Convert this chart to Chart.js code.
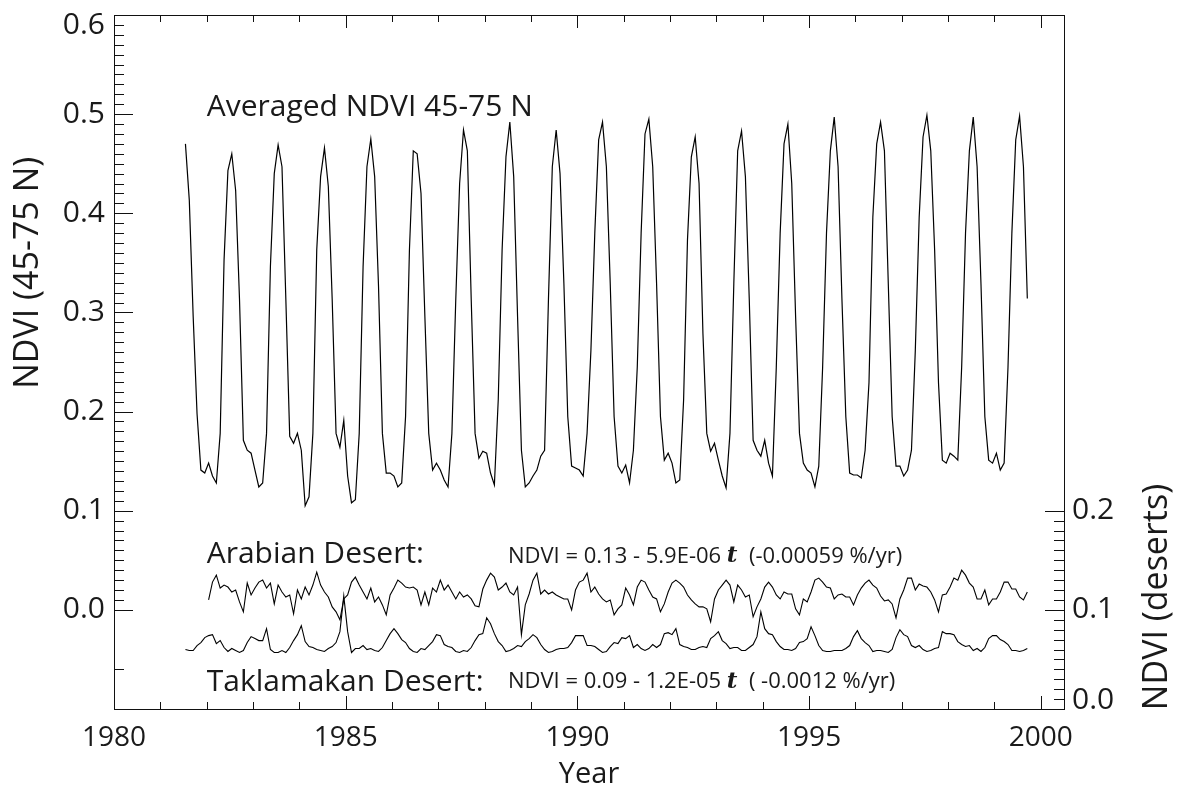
<!DOCTYPE html>
<html>
<head>
<meta charset="utf-8">
<title>Averaged NDVI 45-75 N and desert NDVI</title>
<script src="https://cdn.jsdelivr.net/npm/chart.js@4/dist/chart.umd.min.js"></script>
<style>
  html, body { margin: 0; padding: 0; background: #fff; }
  #wrap { width: 1186px; height: 790px; }
</style>
</head>
<body>
<div id="wrap"><canvas id="ndviChart" width="1186" height="790"></canvas></div>
<script>
// Monthly values
// NDVI averaged over 45-75 N, July 1981 .. September 1999
const northStart = 1981.5;
const ndviNorth = [
  0.470, 0.413, 0.296, 0.198, 0.141, 0.138,
  0.148, 0.135, 0.128, 0.178, 0.353, 0.443, 0.460, 0.423, 0.313, 0.171, 0.161, 0.158,
  0.141, 0.124, 0.128, 0.178, 0.346, 0.440, 0.469, 0.447, 0.313, 0.175, 0.168, 0.178,
  0.161, 0.105, 0.114, 0.178, 0.363, 0.437, 0.466, 0.427, 0.313, 0.178, 0.164, 0.191,
  0.135, 0.108, 0.111, 0.178, 0.346, 0.447, 0.475, 0.437, 0.326, 0.178, 0.138, 0.138,
  0.135, 0.124, 0.128, 0.195, 0.363, 0.463, 0.460, 0.420, 0.296, 0.178, 0.141, 0.148,
  0.141, 0.131, 0.124, 0.178, 0.313, 0.430, 0.484, 0.463, 0.313, 0.178, 0.153, 0.160,
  0.158, 0.138, 0.126, 0.212, 0.363, 0.457, 0.492, 0.437, 0.296, 0.161, 0.124, 0.128,
  0.135, 0.141, 0.155, 0.161, 0.313, 0.447, 0.484, 0.440, 0.329, 0.195, 0.145, 0.143,
  0.141, 0.135, 0.178, 0.262, 0.380, 0.474, 0.492, 0.447, 0.329, 0.195, 0.145, 0.138,
  0.146, 0.128, 0.161, 0.245, 0.380, 0.480, 0.495, 0.447, 0.329, 0.195, 0.151, 0.158,
  0.148, 0.128, 0.131, 0.212, 0.373, 0.457, 0.477, 0.430, 0.279, 0.178, 0.160, 0.168,
  0.151, 0.135, 0.123, 0.178, 0.329, 0.463, 0.483, 0.437, 0.313, 0.171, 0.161, 0.155,
  0.171, 0.148, 0.135, 0.245, 0.380, 0.470, 0.490, 0.430, 0.296, 0.178, 0.148, 0.141,
  0.138, 0.124, 0.145, 0.245, 0.380, 0.463, 0.497, 0.447, 0.313, 0.195, 0.138, 0.136,
  0.136, 0.133, 0.161, 0.229, 0.396, 0.470, 0.492, 0.463, 0.329, 0.195, 0.145, 0.145,
  0.135, 0.141, 0.161, 0.262, 0.396, 0.477, 0.499, 0.463, 0.363, 0.229, 0.151, 0.148,
  0.158, 0.155, 0.151, 0.245, 0.380, 0.463, 0.497, 0.447, 0.329, 0.195, 0.151, 0.148,
  0.158, 0.141, 0.148, 0.245, 0.380, 0.474, 0.498, 0.447, 0.314
];

// Arabian Desert, January 1982 .. September 1999 (right axis)
const arabianStart = 1982.0;
const ndviArabian = [
  0.110, 0.128, 0.135, 0.122, 0.125, 0.123, 0.118, 0.120, 0.108, 0.098, 0.127, 0.115,
  0.122, 0.128, 0.130, 0.122, 0.127, 0.106, 0.125, 0.118, 0.113, 0.115, 0.096, 0.120,
  0.111, 0.123, 0.115, 0.125, 0.138, 0.125, 0.118, 0.113, 0.103, 0.098, 0.090, 0.111,
  0.115, 0.128, 0.133, 0.125, 0.118, 0.111, 0.122, 0.108, 0.113, 0.105, 0.095, 0.115,
  0.122, 0.130, 0.127, 0.123, 0.122, 0.123, 0.120, 0.105, 0.118, 0.105, 0.122, 0.118,
  0.130, 0.120, 0.125, 0.118, 0.111, 0.118, 0.113, 0.115, 0.111, 0.104, 0.103, 0.121,
  0.130, 0.137, 0.133, 0.120, 0.123, 0.127, 0.118, 0.115, 0.123, 0.075, 0.105, 0.116,
  0.130, 0.137, 0.116, 0.120, 0.116, 0.118, 0.115, 0.113, 0.111, 0.111, 0.100, 0.120,
  0.128, 0.130, 0.137, 0.118, 0.123, 0.116, 0.111, 0.108, 0.110, 0.095, 0.101, 0.105,
  0.122, 0.115, 0.105, 0.123, 0.130, 0.128, 0.120, 0.113, 0.111, 0.098, 0.106, 0.118,
  0.127, 0.130, 0.127, 0.123, 0.115, 0.110, 0.106, 0.103, 0.103, 0.101, 0.088, 0.111,
  0.120, 0.125, 0.130, 0.125, 0.108, 0.125, 0.120, 0.113, 0.115, 0.093, 0.103, 0.111,
  0.123, 0.128, 0.123, 0.115, 0.111, 0.118, 0.116, 0.116, 0.101, 0.095, 0.111, 0.108,
  0.118, 0.130, 0.132, 0.128, 0.123, 0.122, 0.111, 0.115, 0.116, 0.113, 0.113, 0.105,
  0.115, 0.122, 0.127, 0.130, 0.125, 0.122, 0.114, 0.109, 0.110, 0.106, 0.092, 0.111,
  0.120, 0.132, 0.132, 0.120, 0.126, 0.124, 0.123, 0.118, 0.110, 0.098, 0.115, 0.116,
  0.123, 0.132, 0.130, 0.140, 0.135, 0.127, 0.123, 0.111, 0.111, 0.120, 0.105, 0.111,
  0.111, 0.118, 0.128, 0.128, 0.121, 0.121, 0.113, 0.110, 0.118
];

// Taklamakan Desert, July 1981 .. September 1999 (right axis)
const taklamakanStart = 1981.5;
const ndviTaklamakan = [
  0.060, 0.059, 0.059, 0.064, 0.067, 0.072,
  0.074, 0.075, 0.066, 0.069, 0.062, 0.058, 0.061, 0.059, 0.057, 0.059, 0.067, 0.073,
  0.071, 0.069, 0.069, 0.081, 0.060, 0.057, 0.057, 0.059, 0.057, 0.062, 0.069, 0.075,
  0.084, 0.068, 0.063, 0.062, 0.060, 0.059, 0.058, 0.061, 0.063, 0.067, 0.078, 0.114,
  0.078, 0.057, 0.061, 0.061, 0.064, 0.060, 0.061, 0.059, 0.058, 0.062, 0.069, 0.076,
  0.081, 0.076, 0.070, 0.067, 0.061, 0.058, 0.057, 0.061, 0.060, 0.064, 0.068, 0.075,
  0.074, 0.065, 0.063, 0.062, 0.058, 0.057, 0.059, 0.058, 0.062, 0.069, 0.075, 0.076,
  0.092, 0.086, 0.076, 0.068, 0.064, 0.058, 0.059, 0.061, 0.064, 0.063, 0.068, 0.071,
  0.075, 0.072, 0.065, 0.060, 0.057, 0.058, 0.060, 0.061, 0.061, 0.062, 0.067, 0.074,
  0.074, 0.074, 0.064, 0.064, 0.063, 0.060, 0.057, 0.058, 0.063, 0.067, 0.066, 0.072,
  0.071, 0.074, 0.062, 0.065, 0.061, 0.059, 0.061, 0.065, 0.062, 0.065, 0.076, 0.077,
  0.075, 0.081, 0.065, 0.063, 0.062, 0.060, 0.060, 0.062, 0.063, 0.062, 0.071, 0.074,
  0.078, 0.069, 0.066, 0.061, 0.062, 0.062, 0.059, 0.059, 0.062, 0.065, 0.073, 0.098,
  0.081, 0.076, 0.075, 0.068, 0.063, 0.060, 0.060, 0.059, 0.061, 0.067, 0.068, 0.071,
  0.083, 0.074, 0.064, 0.059, 0.058, 0.058, 0.059, 0.059, 0.059, 0.061, 0.064, 0.073,
  0.079, 0.071, 0.067, 0.064, 0.058, 0.059, 0.059, 0.058, 0.057, 0.060, 0.072, 0.080,
  0.075, 0.073, 0.064, 0.062, 0.064, 0.060, 0.058, 0.059, 0.061, 0.062, 0.078, 0.076,
  0.076, 0.075, 0.068, 0.065, 0.063, 0.064, 0.059, 0.061, 0.058, 0.062, 0.071, 0.074,
  0.074, 0.070, 0.068, 0.065, 0.059, 0.059, 0.058, 0.059, 0.061
];

// Tick labels
const yearLabels = [1980, 1985, 1990, 1995, 2000];
const leftLabels = [0.0, 0.1, 0.2, 0.3, 0.4, 0.5, 0.6];
const rightLabels = [0.0, 0.1, 0.2];

const FONT = '"Open Sans", "DejaVu Sans", sans-serif';
const INK = '#1a1a1a';

// month i is drawn at the middle of that month
function toPoints(start, values) {
  return values.map((v, i) => ({ x: start + (i + 0.5) / 12, y: v }));
}

// Frame, inward ticks (major + minor) and all texts, placed with the chart scales
const axesFrame = {
  id: 'axesFrame',
  afterDraw(chart) {
    const { ctx, chartArea: a } = chart;
    const { x, y, y2 } = chart.scales;
    const crisp = v => Math.round(v) + 0.5;

    ctx.save();
    ctx.strokeStyle = '#111';
    ctx.lineWidth = 1;
    ctx.strokeRect(crisp(a.left), crisp(a.top), Math.round(a.right - a.left), Math.round(a.bottom - a.top));

    ctx.beginPath();
    // years on bottom and top
    for (let yr = 1980; yr <= 2000; yr++) {
      const px = crisp(x.getPixelForValue(yr));
      const len = yr % 5 === 0 ? 13 : 7;
      ctx.moveTo(px, a.bottom); ctx.lineTo(px, a.bottom - len);
      ctx.moveTo(px, a.top); ctx.lineTo(px, a.top + len);
    }
    // left axis, every 0.01 above zero, one stray minor tick below
    for (let i = -10; i <= 60; i++) {
      if (i < 0 && i !== -6) continue;
      const py = crisp(y.getPixelForValue(i / 100));
      const len = i % 10 === 0 ? 19 : 10;
      ctx.moveTo(a.left, py); ctx.lineTo(a.left + len, py);
    }
    // right axis, 0.0 .. 0.2 only
    for (let i = 0; i <= 20; i++) {
      const py = crisp(y2.getPixelForValue(i / 100));
      const len = i % 10 === 0 ? 19 : 10;
      ctx.moveTo(a.right, py); ctx.lineTo(a.right - len, py);
    }
    ctx.stroke();

    ctx.fillStyle = INK;
    ctx.textBaseline = 'middle';

    ctx.font = '30px ' + FONT;
    ctx.textAlign = 'right';
    leftLabels.forEach(v => {
      const py = Math.min(Math.max(y.getPixelForValue(v), a.top + 10), a.bottom - 9);
      ctx.fillText(v.toFixed(1), a.left - 9, py);
    });

    ctx.textAlign = 'left';
    rightLabels.forEach(v => {
      const py = Math.min(Math.max(y2.getPixelForValue(v), a.top + 10), a.bottom - 9);
      ctx.fillText(v.toFixed(1), a.right + 8, py);
    });

    ctx.font = '28px ' + FONT;
    ctx.textAlign = 'center';
    yearLabels.forEach(yr => {
      ctx.fillText(String(yr), x.getPixelForValue(yr), a.bottom + 29);
    });
    ctx.font = '29px ' + FONT;
    ctx.fillText('Year', (a.left + a.right) / 2, a.bottom + 66);

    // axis titles
    ctx.font = '34px ' + FONT;
    ctx.save();
    ctx.translate(28, y.getPixelForValue(0.34));
    ctx.rotate(-Math.PI / 2);
    ctx.fillText('NDVI (45-75 N)', 0, 0);
    ctx.restore();

    ctx.save();
    ctx.translate(1157, y2.getPixelForValue(0.113));
    ctx.rotate(-Math.PI / 2);
    ctx.fillText('NDVI (deserts)', 0, 0);
    ctx.restore();

    // annotations inside the plot
    ctx.textAlign = 'left';
    ctx.font = '30px ' + FONT;
    ctx.fillText('Averaged NDVI 45-75 N', x.getPixelForValue(1982.0), y.getPixelForValue(0.507));
    ctx.fillText('Arabian Desert:', x.getPixelForValue(1982.0), y.getPixelForValue(0.056));
    ctx.fillText('Taklamakan Desert:', x.getPixelForValue(1982.0), y.getPixelForValue(-0.073));

    const formula = (before, after, px, py) => {
      ctx.font = '22px ' + FONT;
      ctx.fillText(before, px, py);
      px += ctx.measureText(before).width;
      ctx.font = 'italic bold 23px "DejaVu Serif", serif';
      ctx.fillText('t', px, py);
      px += ctx.measureText('t').width;
      ctx.font = '22px ' + FONT;
      ctx.fillText(after, px, py);
    };
    formula('NDVI = 0.13 - 5.9E-06 ', '  (-0.00059 %/yr)', x.getPixelForValue(1988.5), y.getPixelForValue(0.054));
    formula('NDVI = 0.09 - 1.2E-05 ', '  ( -0.0012 %/yr)', x.getPixelForValue(1988.5), y.getPixelForValue(-0.073));

    ctx.restore();
  }
};

const lineStyle = {
  borderColor: '#000',
  borderWidth: 1.2,
  pointRadius: 0,
  tension: 0,
  fill: false
};

new Chart(document.getElementById('ndviChart').getContext('2d'), {
  type: 'line',
  data: {
    datasets: [
      { label: 'NDVI 45-75 N', data: toPoints(northStart, ndviNorth), yAxisID: 'y', ...lineStyle },
      { label: 'Arabian Desert', data: toPoints(arabianStart, ndviArabian), yAxisID: 'y2', ...lineStyle, borderWidth: 1.1 },
      { label: 'Taklamakan Desert', data: toPoints(taklamakanStart, ndviTaklamakan), yAxisID: 'y2', ...lineStyle, borderWidth: 1.1 }
    ]
  },
  options: {
    responsive: false,
    animation: false,
    events: [],
    layout: { padding: { left: 114, right: 122, top: 15, bottom: 81 } },
    plugins: {
      legend: { display: false },
      tooltip: { enabled: false }
    },
    scales: {
      x: { type: 'linear', min: 1980, max: 2000.5, display: false },
      y: { min: -0.1, max: 0.6, display: false },
      y2: { min: 0, max: 0.7, display: false, position: 'right' }
    }
  },
  plugins: [axesFrame]
});
</script>
</body>
</html>
